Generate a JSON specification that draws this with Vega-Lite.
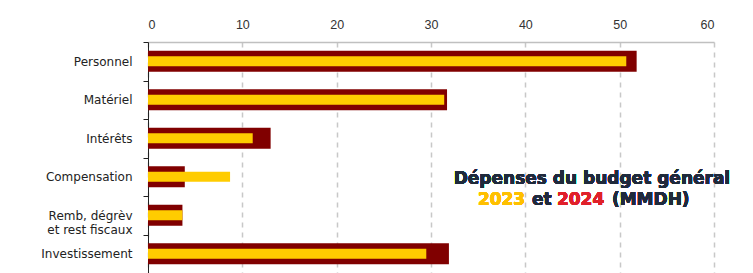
{
  "$schema": "https://vega.github.io/schema/vega-lite/v6.json",
  "width": 566,
  "height": 231,
  "autosize": {"type": "none"},
  "padding": {"left": 148, "top": 42, "right": 39, "bottom": 0},
  "background": "white",
  "config": {"view": {"stroke": null}},
  "data": {
    "values": [
      {"category": "Personnel", "year": "2024", "value": 51.8},
      {"category": "Personnel", "year": "2023", "value": 50.7},
      {"category": "Matériel", "year": "2024", "value": 31.7},
      {"category": "Matériel", "year": "2023", "value": 31.4},
      {"category": "Intérêts", "year": "2024", "value": 13.0},
      {"category": "Intérêts", "year": "2023", "value": 11.1},
      {"category": "Compensation", "year": "2024", "value": 3.9},
      {"category": "Compensation", "year": "2023", "value": 8.7},
      {"category": "Remb, dégrèv et rest fiscaux", "year": "2024", "value": 3.65},
      {"category": "Remb, dégrèv et rest fiscaux", "year": "2023", "value": 3.65},
      {"category": "Investissement", "year": "2024", "value": 31.9},
      {"category": "Investissement", "year": "2023", "value": 29.5}
    ]
  },
  "encoding": {
    "y": {
      "field": "category",
      "type": "nominal",
      "sort": null,
      "scale": {"paddingInner": 0, "paddingOuter": 0},
      "axis": {
        "title": null,
        "orient": "left",
        "tickBand": "extent",
        "tickSize": 5,
        "tickColor": "#222222",
        "domainColor": "#222222",
        "labelFont": "DejaVu Sans",
        "labelFontSize": 12,
        "labelColor": "#222222",
        "labelPadding": 11,
        "labelLineHeight": 14,
        "labelExpr": "datum.label == 'Remb, dégrèv et rest fiscaux' ? ['Remb, dégrèv', 'et rest fiscaux'] : datum.label"
      }
    },
    "x": {
      "field": "value",
      "type": "quantitative",
      "scale": {"domain": [0, 60], "nice": false},
      "axis": {
        "title": null,
        "orient": "top",
        "values": [0, 10, 20, 30, 40, 50, 60],
        "ticks": false,
        "domainColor": "#c0c0c0",
        "domainWidth": 1.5,
        "grid": true,
        "gridColor": "#c8c8c8",
        "gridWidth": 1.5,
        "gridDash": [5, 5],
        "labelFont": "Liberation Sans",
        "labelFontSize": 12.5,
        "labelColor": "#333333",
        "labelPadding": 11
      }
    }
  },
  "layer": [
    {
      "transform": [{"filter": "datum.year == '2024'"}],
      "mark": {"type": "bar", "color": "#800000", "size": 21}
    },
    {
      "transform": [{"filter": "datum.year == '2023'"}],
      "mark": {"type": "bar", "color": "#FFCC00", "size": 10}
    },
    {
      "mark": {"type": "text", "font": "DejaVu Sans", "fontWeight": "bold", "fontSize": 17, "color": "#1F2A3C", "align": "center", "baseline": "middle", "dy": 2},
      "encoding": {
        "x": {"datum": 47.06, "type": "quantitative"},
        "y": {"datum": "Compensation", "type": "nominal"},
        "text": {"value": "Dépenses du budget général"}
      }
    },
    {
      "mark": {"type": "text", "font": "DejaVu Sans", "fontWeight": "bold", "fontSize": 17, "color": "#FFC000", "align": "left", "baseline": "middle", "dy": 23},
      "encoding": {
        "x": {"datum": 34.97, "type": "quantitative"},
        "y": {"datum": "Compensation", "type": "nominal"},
        "text": {"value": "2023"}
      }
    },
    {
      "mark": {"type": "text", "font": "DejaVu Sans", "fontWeight": "bold", "fontSize": 17, "color": "#1F2A3C", "align": "left", "baseline": "middle", "dy": 23},
      "encoding": {
        "x": {"datum": 40.7, "type": "quantitative"},
        "y": {"datum": "Compensation", "type": "nominal"},
        "text": {"value": "et"}
      }
    },
    {
      "mark": {"type": "text", "font": "DejaVu Sans", "fontWeight": "bold", "fontSize": 17, "color": "#E0202A", "align": "left", "baseline": "middle", "dy": 23},
      "encoding": {
        "x": {"datum": 43.35, "type": "quantitative"},
        "y": {"datum": "Compensation", "type": "nominal"},
        "text": {"value": "2024"}
      }
    },
    {
      "mark": {"type": "text", "font": "DejaVu Sans", "fontWeight": "bold", "fontSize": 17, "color": "#1F2A3C", "align": "left", "baseline": "middle", "dy": 23},
      "encoding": {
        "x": {"datum": 49.18, "type": "quantitative"},
        "y": {"datum": "Compensation", "type": "nominal"},
        "text": {"value": "(MMDH)"}
      }
    }
  ]
}
